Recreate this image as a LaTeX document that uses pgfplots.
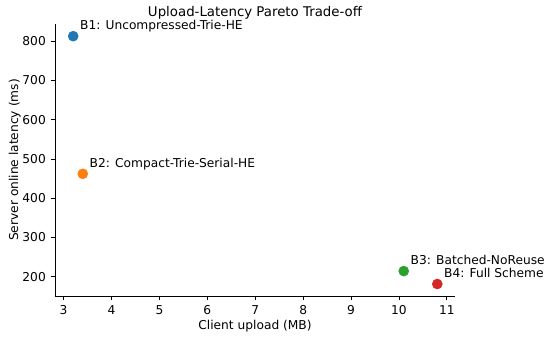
\documentclass[border=0pt]{standalone}
\usepackage{pgfplots}
\pgfplotsset{compat=1.18}
\usepackage{fontspec}
\setmainfont{DejaVu Sans}
\definecolor{tabblue}{HTML}{1F77B4}
\definecolor{taborange}{HTML}{FF7F0E}
\definecolor{tabgreen}{HTML}{2CA02C}
\definecolor{tabred}{HTML}{D62728}
\begin{document}
\begin{tikzpicture}
\begin{axis}[
  at={(0,0)}, anchor=south west,
  scale only axis,
  width=288pt, height=195.8pt,
  xmin=2.82, xmax=11.17, ymin=150.5, ymax=844,
  axis x line*=bottom, axis y line*=left,
  axis line style={line width=0.55pt, -},
  xtick={3,4,...,11}, ytick={200,300,...,800},
  tick align=outside, tick style={black, line width=0.55pt},
  major tick length=3.1pt,
  /pgf/number format/assume math mode=true,
  ticklabel style={font=\fontsize{8.8}{10.5}\selectfont},
  label style={font=\fontsize{8.8}{10.5}\selectfont},
  xlabel={Client upload (MB)},
  ylabel={Server online latency (ms)},
  xlabel style={at={(rel axis cs:0.5,0)}, anchor=center, yshift=-22pt},
  ylabel style={at={(rel axis cs:0,0.5)}, anchor=center, yshift=29pt},
  clip=false,
]
\addplot[only marks, mark=*, mark size=3.6pt, color=tabblue] coordinates {(3.2,813)};
\addplot[only marks, mark=*, mark size=3.6pt, color=taborange] coordinates {(3.4,462)};
\addplot[only marks, mark=*, mark size=3.6pt, color=tabgreen] coordinates {(10.1,214)};
\addplot[only marks, mark=*, mark size=3.6pt, color=tabred] coordinates {(10.8,181)};
\node[anchor=base west, inner sep=0pt, xshift=4.8pt, yshift=4.8pt, font=\fontsize{8.8}{10.5}\selectfont] at (axis cs:3.2,813) {B1: Uncompressed-Trie-HE};
\node[anchor=base west, inner sep=0pt, xshift=4.8pt, yshift=4.8pt, font=\fontsize{8.8}{10.5}\selectfont] at (axis cs:3.4,462) {B2: Compact-Trie-Serial-HE};
\node[anchor=base west, inner sep=0pt, xshift=4.8pt, yshift=4.8pt, font=\fontsize{8.8}{10.5}\selectfont] at (axis cs:10.1,214) {B3: Batched-NoReuse};
\node[anchor=base west, inner sep=0pt, xshift=4.8pt, yshift=4.8pt, font=\fontsize{8.8}{10.5}\selectfont] at (axis cs:10.8,181) {B4: Full Scheme};
\node[anchor=base, inner sep=0pt, yshift=5.3pt, font=\fontsize{9.6}{11.5}\selectfont] at (rel axis cs:0.5,1) {Upload-Latency Pareto Trade-off};
\end{axis}
\pgfresetboundingbox
\path[use as bounding box] (-39.6pt,-31pt) rectangle (356.4pt,213.1pt);
\end{tikzpicture}
\end{document}
